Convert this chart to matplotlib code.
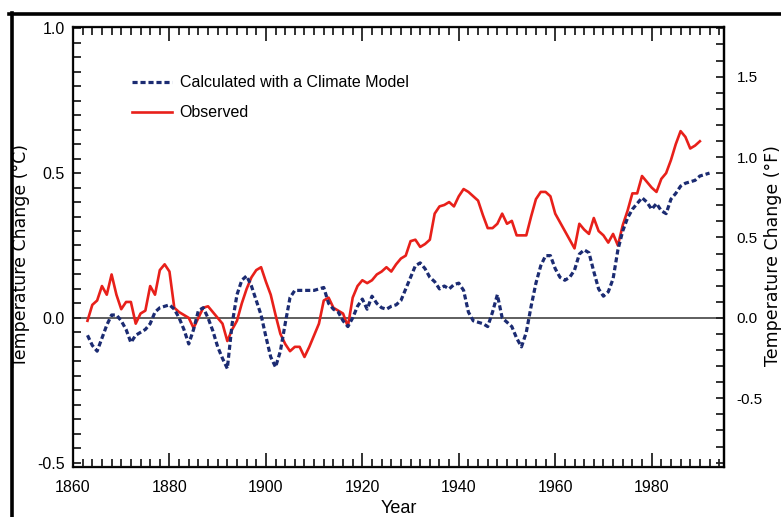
import matplotlib
matplotlib.use("Agg")
from matplotlib import pyplot as plt
from matplotlib.lines import Line2D
import numpy as np

# observed global mean temperature change (degC), annual
obs_years = list(range(1863, 1991))
obs_values = [
    -0.01, 0.045, 0.06, 0.11, 0.08, 0.15, 0.08, 0.03, 0.055, 0.055,
    -0.02, 0.015, 0.025, 0.11, 0.08, 0.165, 0.185, 0.16, 0.035, 0.02,
    0.01, 0.0, -0.035, 0.0, 0.035, 0.04, 0.02, 0.0, -0.02, -0.08,
    -0.04, -0.01, 0.05, 0.10, 0.14, 0.165, 0.175, 0.125, 0.08, 0.01,
    -0.055, -0.09, -0.115, -0.10, -0.10, -0.135, -0.10, -0.06, -0.02, 0.06,
    0.07, 0.035, 0.025, 0.015, -0.03, 0.07, 0.11, 0.13, 0.12, 0.13,
    0.15, 0.16, 0.175, 0.16, 0.185, 0.205, 0.215, 0.265, 0.27, 0.245,
    0.255, 0.27, 0.36, 0.385, 0.39, 0.40, 0.385, 0.42, 0.445, 0.435,
    0.42, 0.405, 0.355, 0.31, 0.31, 0.325, 0.36, 0.325, 0.335, 0.285,
    0.285, 0.285, 0.35, 0.41, 0.435, 0.435, 0.42, 0.36, 0.33, 0.30,
    0.27, 0.24, 0.325, 0.305, 0.29, 0.345, 0.30, 0.285, 0.26, 0.29,
    0.25, 0.32, 0.37, 0.43, 0.43, 0.49, 0.47, 0.45, 0.435, 0.48,
    0.50, 0.545, 0.60, 0.645, 0.625, 0.585, 0.595, 0.61,
]

# climate model run (degC), annual
model_years = list(range(1863, 1993))
model_values = [
    -0.06, -0.095, -0.115, -0.07, -0.025, 0.01, 0.01, -0.01, -0.04, -0.085,
    -0.06, -0.05, -0.04, -0.02, 0.02, 0.035, 0.04, 0.045, 0.03, 0.0,
    -0.04, -0.09, -0.04, 0.025, 0.035, 0.0, -0.045, -0.10, -0.14, -0.175,
    -0.02, 0.08, 0.13, 0.145, 0.11, 0.06, 0.01, -0.065, -0.135, -0.17,
    -0.115, -0.02, 0.07, 0.095, 0.095, 0.095, 0.095, 0.095, 0.10, 0.105,
    0.05, 0.03, 0.02, -0.01, -0.03, 0.0, 0.04, 0.065, 0.03, 0.075,
    0.05, 0.035, 0.03, 0.04, 0.045, 0.06, 0.10, 0.14, 0.18, 0.19,
    0.17, 0.14, 0.125, 0.10, 0.11, 0.10, 0.115, 0.12, 0.095, 0.02,
    -0.01, -0.015, -0.02, -0.03, 0.02, 0.08, 0.0, -0.015, -0.03, -0.07,
    -0.10, -0.05, 0.04, 0.12, 0.18, 0.215, 0.215, 0.17, 0.14, 0.13,
    0.14, 0.165, 0.22, 0.235, 0.225, 0.16, 0.10, 0.075, 0.09, 0.135,
    0.235, 0.30, 0.345, 0.375, 0.395, 0.415, 0.40, 0.375, 0.395, 0.37,
    0.36, 0.41, 0.43, 0.455, 0.465, 0.47, 0.475, 0.49, 0.495, 0.50,
]

year_labels = [1860, 1880, 1900, 1920, 1940, 1960, 1980]
degc_labels = [-0.5, 0.0, 0.5, 1.0]
degf_labels = [-0.5, 0.0, 0.5, 1.0, 1.5]

narrow = ["Liberation Sans Narrow", "Liberation Sans", "DejaVu Sans"]
wide = ["DejaVu Sans"]
ink = "#222222"

fig = plt.figure(figsize=(7.81, 5.17), dpi=100)
ax = fig.add_axes([0.0935, 0.0967, 0.8335, 0.8513])

ax.axhline(0, color="#333333", lw=1.1, zorder=1)
ax.plot(model_years, model_values, color="#1b2b72", lw=2.3,
        linestyle=(0, (1.6, 0.9)), label="Calculated with a Climate Model",
        zorder=3)
ax.plot(obs_years, obs_values, color="#e8201a", lw=1.9,
        label="Observed", zorder=2)

ax.set_xlim(1860, 1995)
ax.set_ylim(-0.515, 1.005)

# left axis, degC
ax.set_yticks(degc_labels)
ax.set_yticklabels([f"{v:.1f}" for v in degc_labels], family=narrow, fontsize=11.5)
ax.set_yticks(np.arange(-0.5, 1.0, 0.05), minor=True)
ax.set_xticks(year_labels)
ax.set_xticklabels([str(y) for y in year_labels], family=narrow, fontsize=11.5)
ax.set_xticks(np.arange(1860, 1995, 2), minor=True)
ax.tick_params(axis="both", which="both", direction="in", color=ink, width=1.3)
ax.tick_params(axis="y", which="both", length=6, pad=6, left=True, right=False)
ax.tick_params(axis="x", which="major", length=10, pad=9, top=True, bottom=True)
ax.tick_params(axis="x", which="minor", length=6, top=True, bottom=True)
for s in ax.spines.values():
    s.set_linewidth(1.6)
    s.set_color("#111111")

ax.set_xlabel("Year", family=narrow, fontsize=13)
ax.xaxis.set_label_coords(0.5, -0.075)
ax.set_ylabel("Temperature Change (\u00b0C)", family=wide, fontsize=12.5)
ax.yaxis.set_label_coords(-0.066, 0.48)

# right axis, degF
ax2 = ax.twinx()
lo, hi = ax.get_ylim()
ax2.set_ylim(lo * 1.8, hi * 1.8)
ax2.set_yticks(degf_labels)
ax2.set_yticklabels([f"{v:.1f}" for v in degf_labels], family=narrow, fontsize=11)
ax2.set_yticks(np.arange(-0.9, 1.81, 0.1), minor=True)
ax2.tick_params(axis="y", which="both", direction="in", length=6, width=1.3,
                color=ink, pad=9)
ax2.spines["right"].set_linewidth(1.6)
ax2.set_ylabel("Temperature Change (\u00b0F)", family=wide, fontsize=12.5)
ax2.yaxis.set_label_coords(1.0615, 0.48)

leg = ax.legend(loc="upper left", bbox_to_anchor=(0.09, 0.89), frameon=False,
                handlelength=2.5, handletextpad=0.5, labelspacing=0.95,
                borderaxespad=0, borderpad=0, prop={"family": narrow, "size": 11.5})

# heavy frame lines along the top and left of the figure
fig.add_artist(Line2D([0.012, 1.0], [0.9735, 0.9735], color="black", lw=2.6,
                      transform=fig.transFigure))
fig.add_artist(Line2D([0.0155, 0.0155], [0.0, 0.975], color="black", lw=2.6,
                      transform=fig.transFigure))

fig.savefig("out.png", dpi=100)
